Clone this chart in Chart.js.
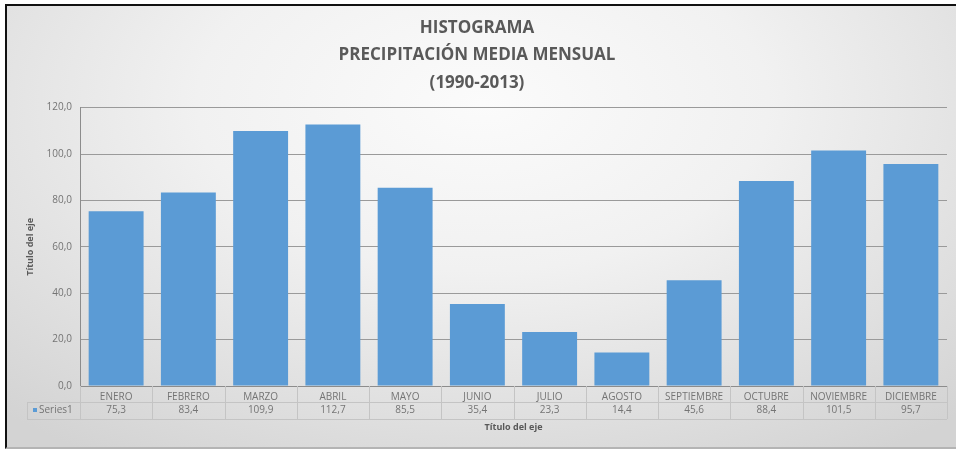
<!DOCTYPE html>
<html>
<head>
<meta charset="utf-8">
<script src="https://cdn.jsdelivr.net/npm/chart.js@4/dist/chart.umd.min.js"></script>
<style>
    body { margin: 0; background: #fff; }
    #frame {
        position: absolute;
        left: 5px;
        top: 4px;
        width: 951px;
        height: 441px;
        border-top: 2px solid #111;
        border-left: 2px solid #111;
        border-bottom: 2px solid #b4b4b4;
        background: radial-gradient(ellipse 75% 95% at 50% 22%, #fbfbfb 0%, #f1f1f1 40%, #d3d3d3 100%);
    }
    #box { position: relative; width: 949px; height: 441px; }
</style>
</head>
<body>
<div id="frame"><div id="box"><canvas id="histChart"></canvas></div></div>
<script>
const meses = ['ENERO', 'FEBRERO', 'MARZO', 'ABRIL', 'MAYO', 'JUNIO', 'JULIO', 'AGOSTO', 'SEPTIEMBRE', 'OCTUBRE', 'NOVIEMBRE', 'DICIEMBRE'];
const precipitacion = [75.3, 83.4, 109.9, 112.7, 85.5, 35.4, 23.3, 14.4, 45.6, 88.4, 101.5, 95.7];
const ejeY = [0, 20, 40, 60, 80, 100, 120];
const serie = 'Series1';

const azul = '#5b9bd5';
const gris = '#595959';
const grisClaro = '#747474';
const coma = v => v.toFixed(1).replace('.', ',');

// tabla de datos debajo del eje X (estilo Excel)
const tablaDatos = {
    id: 'tablaDatos',
    afterDraw(chart) {
        const { ctx, chartArea } = chart;
        const x = chart.scales.x;
        const w = x.width / meses.length;
        const top = chartArea.bottom;
        const mid = top + 16;
        const bot = top + 33;
        ctx.save();
        ctx.strokeStyle = '#c4c4c4';
        ctx.lineWidth = 1;
        ctx.beginPath();
        ctx.moveTo(20, mid + 0.5); ctx.lineTo(chartArea.right, mid + 0.5);
        ctx.moveTo(20, bot + 0.5); ctx.lineTo(chartArea.right, bot + 0.5);
        for (let i = 0; i <= meses.length; i++) {
            const px = Math.round(x.left + i * w) + 0.5;
            ctx.moveTo(px, top); ctx.lineTo(px, bot);
        }
        ctx.moveTo(20.5, mid); ctx.lineTo(20.5, bot);
        ctx.stroke();

        ctx.font = '10px "Open Sans"';
        ctx.fillStyle = grisClaro;
        ctx.textAlign = 'center';
        ctx.textBaseline = 'middle';
        precipitacion.forEach((v, i) => {
            ctx.fillText(coma(v), x.getPixelForValue(i), mid + 8);
        });
        ctx.fillStyle = azul;
        ctx.fillRect(26, mid + 6, 4, 4);
        ctx.fillStyle = grisClaro;
        ctx.textAlign = 'left';
        ctx.fillText(serie, 32, mid + 8);
        ctx.restore();
    }
};

new Chart(document.getElementById('histChart'), {
    type: 'bar',
    data: {
        labels: meses,
        datasets: [{
            label: serie,
            data: precipitacion,
            backgroundColor: azul,
            barPercentage: 0.76,
            categoryPercentage: 1
        }]
    },
    options: {
        responsive: true,
        maintainAspectRatio: false,
        animation: false,
        layout: { padding: { left: 0, right: 9, top: 0, bottom: 0 } },
        plugins: {
            legend: { display: false },
            tooltip: { enabled: false },
            title: {
                display: true,
                text: ['HISTOGRAMA', 'PRECIPITACIÓN MEDIA MENSUAL', '(1990-2013)'],
                color: gris,
                font: { family: 'Open Sans', size: 17, weight: 'bold', lineHeight: 1.62 },
                padding: { top: 8, bottom: 11 }
            }
        },
        scales: {
            x: {
                grid: { display: false },
                border: { color: '#8c8c8c' },
                ticks: {
                    color: grisClaro,
                    font: { family: 'Open Sans', size: 10 },
                    padding: -3,
                    maxRotation: 0,
                    autoSkip: false
                },
                title: {
                    display: true,
                    text: 'Título del eje',
                    color: gris,
                    font: { family: 'Open Sans', size: 9, weight: 'bold' },
                    padding: { top: 0, bottom: 14 }
                },
                afterFit(scale) { scale.height = 61; }
            },
            y: {
                min: 0,
                max: 120,
                afterBuildTicks(scale) { scale.ticks = ejeY.map(v => ({ value: v })); },
                grid: { color: '#9a9a9a', drawTicks: false },
                border: { color: '#8c8c8c' },
                ticks: {
                    color: grisClaro,
                    font: { family: 'Open Sans', size: 10 },
                    padding: 8,
                    callback: v => coma(v)
                },
                title: {
                    display: true,
                    text: 'Título del eje',
                    color: gris,
                    font: { family: 'Open Sans', size: 9, weight: 'bold' },
                    padding: { top: 18, bottom: 0 }
                },
                afterFit(scale) { scale.width = 73; }
            }
        }
    },
    plugins: [tablaDatos]
});
</script>
</body>
</html>
